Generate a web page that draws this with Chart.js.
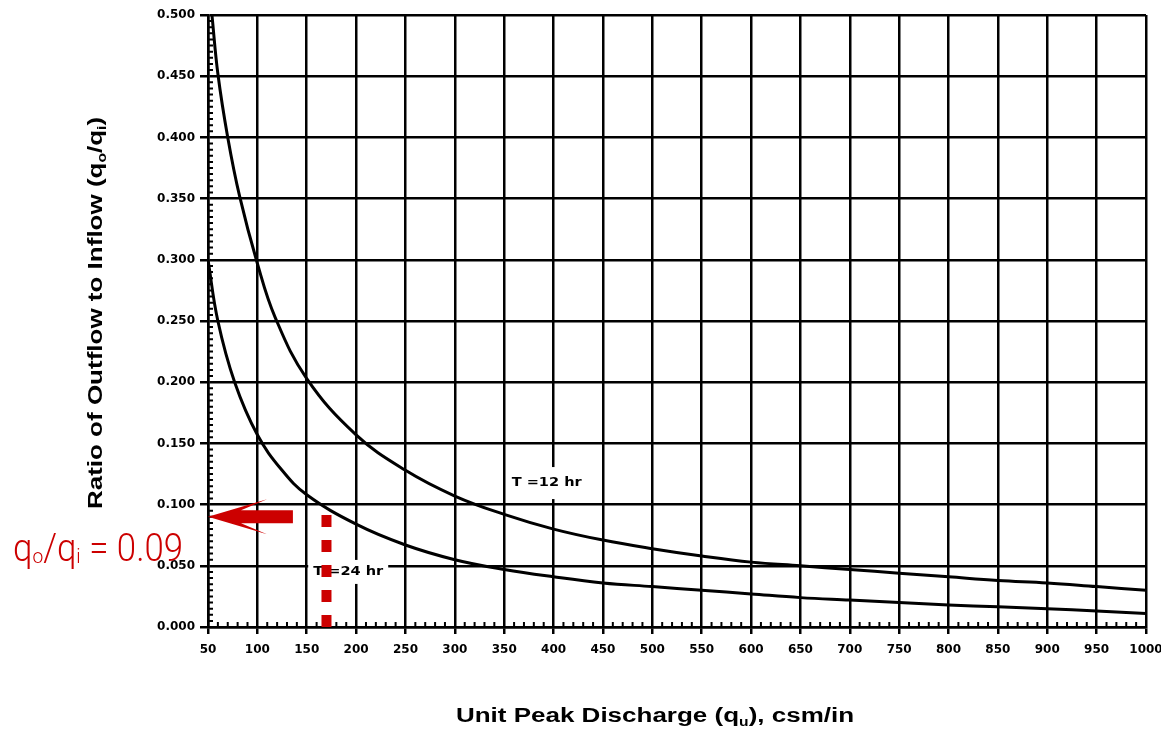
<!DOCTYPE html>
<html><head><meta charset="utf-8">
<script src="https://cdn.jsdelivr.net/npm/chart.js@4/dist/chart.umd.min.js"></script>
<style>html,body{margin:0;padding:0;background:#fff;}#wrap{width:1161px;height:733px;}</style>
</head><body><div id="wrap"><canvas id="c" width="1161" height="733"></canvas></div>
<script>
// ---- data ----
const X_TICKS = [50,100,150,200,250,300,350,400,450,500,550,600,650,700,750,800,850,900,950,1000];
const Y_TICKS = [0,0.05,0.1,0.15,0.2,0.25,0.3,0.35,0.4,0.45,0.5];
const Y_TICK_LABELS = ['0.000','0.050','0.100','0.150','0.200','0.250','0.300','0.350','0.400','0.450','0.500'];
const SERIES_NAMES = ['T =12 hr','T =24 hr'];
const QU_T12 = [54,60,70,82,100,118,150,200,250,300,350,400,450,500,550,600,650,700,750,800,850,900,950,1000];
const RATIO_T12 = [0.500,0.452,0.400,0.352,0.297,0.253,0.203,0.157,0.128,0.107,0.092,0.080,0.071,0.064,0.058,0.053,0.050,0.047,0.044,0.041,0.038,0.036,0.033,0.030];
const QU_T24 = [50,60,77,100,125,150,200,250,300,350,400,450,500,550,600,650,700,750,800,850,900,950,1000];
const RATIO_T24 = [0.300,0.250,0.200,0.157,0.128,0.108,0.084,0.067,0.055,0.047,0.041,0.036,0.033,0.030,0.027,0.024,0.022,0.020,0.018,0.0165,0.015,0.013,0.011];
// reading example
const READ_QU = 170;
const READ_RATIO = 0.09;
const ARROW_TAIL_QU = 136;
const LABEL_T12_AT = [393, 0.1176];
const LABEL_T24_AT = [192, 0.045];
const Y_MINOR_STEP = 0.005;
const X_MINOR_STEP = 10;

const toPts = (xs, ys) => xs.map((x, i) => ({x: x, y: ys[i]}));
const RED = '#cc0000';
const TICK_FONT = {family: "'DejaVu Sans', sans-serif", size: 12, weight: 'bold'};
const TITLE_FAMILY = "'Liberation Sans', Arial, sans-serif";

function drawRich(ctx, parts, x, y, o) {
  const fMain = (o.weight || 'bold') + ' ' + o.size + 'px ' + o.family;
  const fSub = (o.weight || 'bold') + ' ' + Math.round(o.size * o.subScale) + 'px ' + o.family;
  let total = 0;
  const widths = parts.map(p => { ctx.font = p.sub ? fSub : fMain; const w = ctx.measureText(p.t).width; total += w; return w; });
  let sx = 1;
  if (o.target) sx = Math.max(0.75, Math.min(1.3, o.target / total));
  ctx.save();
  ctx.translate(x, y);
  ctx.scale(sx, 1);
  ctx.fillStyle = o.color || '#000';
  ctx.textBaseline = 'alphabetic';
  ctx.textAlign = 'left';
  let cx = o.align === 'center' ? -total / 2 : (o.align === 'right' ? -total : 0);
  parts.forEach((p, i) => {
    ctx.font = p.sub ? fSub : fMain;
    ctx.fillText(p.t, cx, p.sub ? o.subDrop : 0);
    cx += widths[i];
  });
  ctx.restore();
}

const decor = {
  id: 'decor',
  afterDatasetsDraw(chart) {
    const ctx = chart.ctx, xs = chart.scales.x, ys = chart.scales.y, a = chart.chartArea;
    // minor ticks
    ctx.save();
    ctx.strokeStyle = '#000'; ctx.lineWidth = 2;
    ctx.beginPath();
    for (let k = 1; k < Math.round(0.5 / Y_MINOR_STEP); k++) {
      if (k % 10 === 0) continue;
      const py = ys.getPixelForValue(k * Y_MINOR_STEP);
      ctx.moveTo(a.left, py); ctx.lineTo(a.left + 5, py);
    }
    for (let v = 50 + X_MINOR_STEP; v < 1000; v += X_MINOR_STEP) {
      if (v % 50 === 0) continue;
      const px = xs.getPixelForValue(v);
      ctx.moveTo(px, a.bottom); ctx.lineTo(px, a.bottom - 5);
    }
    ctx.stroke();
    ctx.restore();
    // curve labels
    const labs = [[SERIES_NAMES[0], LABEL_T12_AT, 32], [SERIES_NAMES[1], LABEL_T24_AT, 24]];
    labs.forEach(([txt, at, h]) => {
      const px = xs.getPixelForValue(at[0]), py = ys.getPixelForValue(at[1]);
      ctx.save();
      ctx.font = "bold 13px 'DejaVu Sans', sans-serif";
      const w = ctx.measureText(txt).width;
      const sx = 70 / w;
      ctx.fillStyle = '#fff';
      ctx.fillRect(px - 40, py - h / 2, 80, h);
      ctx.translate(px, py);
      ctx.scale(sx, 1);
      ctx.fillStyle = '#000';
      ctx.textAlign = 'center'; ctx.textBaseline = 'middle';
      ctx.fillText(txt, 0, 0);
      ctx.restore();
    });
    // red dotted reading line
    const rx = xs.getPixelForValue(READ_QU);
    ctx.save();
    ctx.strokeStyle = RED; ctx.lineWidth = 10;
    ctx.setLineDash([12, 13]);
    ctx.beginPath();
    ctx.moveTo(rx, a.bottom); ctx.lineTo(rx, ys.getPixelForValue(0.1) + 1);
    ctx.stroke();
    ctx.restore();
    // red arrow
    const tx = xs.getPixelForValue(50), ty = ys.getPixelForValue(READ_RATIO);
    const ex = xs.getPixelForValue(ARROW_TAIL_QU) - tx;
    ctx.save();
    ctx.fillStyle = RED;
    ctx.beginPath();
    ctx.moveTo(tx, ty);
    ctx.lineTo(tx + 59, ty - 17.5);
    ctx.lineTo(tx + 33, ty - 6.5);
    ctx.lineTo(tx + ex, ty - 6.5);
    ctx.lineTo(tx + ex, ty + 6.5);
    ctx.lineTo(tx + 33, ty + 6.5);
    ctx.lineTo(tx + 59, ty + 17.5);
    ctx.closePath();
    ctx.fill();
    ctx.restore();
  },
  afterDraw(chart) {
    const ctx = chart.ctx;
    drawRich(ctx, [{t:'q'},{t:'o',sub:true},{t:'/'},{t:'q'},{t:'i',sub:true},{t:' = ' + READ_RATIO.toFixed(2)}],
      13, 561, {size: 38, family: "Roboto, 'Open Sans', sans-serif", weight: '300', subScale: 0.55, subDrop: 2, target: 170, color: RED});
    ctx.save();
    ctx.translate(102, 313);
    ctx.rotate(-Math.PI / 2);
    drawRich(ctx, [{t:'Ratio of Outflow to Inflow (q'},{t:'o',sub:true},{t:'/q'},{t:'i',sub:true},{t:')'}],
      0, 0, {size: 20, family: TITLE_FAMILY, subScale: 0.62, subDrop: 4, target: 427, align: 'center'});
    ctx.restore();
    drawRich(ctx, [{t:'Unit Peak Discharge (q'},{t:'u',sub:true},{t:'), csm/in'}],
      655, 722, {size: 20, family: TITLE_FAMILY, subScale: 0.62, subDrop: 4, target: 408, align: 'center'});
  }
};

new Chart(document.getElementById('c'), {
  type: 'line',
  data: {
    datasets: [
      {label: SERIES_NAMES[0], data: toPts(QU_T12, RATIO_T12), borderColor: '#000', borderWidth: 3, pointRadius: 0, tension: 0.4, fill: false},
      {label: SERIES_NAMES[1], data: toPts(QU_T24, RATIO_T24), borderColor: '#000', borderWidth: 3, pointRadius: 0, tension: 0.4, fill: false}
    ]
  },
  options: {
    responsive: false,
    animation: false,
    devicePixelRatio: 1,
    layout: {padding: {top: 15, right: 15, left: 0, bottom: 0}},
    plugins: {legend: {display: false}, tooltip: {enabled: false}, title: {display: false}},
    scales: {
      x: {
        type: 'linear', min: 50, max: 1000,
        afterBuildTicks: s => { s.ticks = X_TICKS.map(v => ({value: v})); },
        afterFit: s => { s.height = 106; s.paddingLeft = 0; s.paddingRight = 0; },
        ticks: {autoSkip: false, maxRotation: 0, font: TICK_FONT, color: '#000', padding: 9, callback: v => String(v)},
        grid: {color: '#000', lineWidth: 2.5, tickLength: 7, tickColor: '#000'},
        border: {color: '#000', width: 2.5}
      },
      y: {
        type: 'linear', min: 0, max: 0.5,
        afterBuildTicks: s => { s.ticks = Y_TICKS.map(v => ({value: v})); },
        afterFit: s => { s.width = 208; s.paddingTop = 0; s.paddingBottom = 0; },
        ticks: {autoSkip: false, font: TICK_FONT, color: '#000', padding: 5, callback: (v, i) => Y_TICK_LABELS[i]},
        grid: {color: '#000', lineWidth: 2.5, tickLength: 8, tickColor: '#000'},
        border: {color: '#000', width: 2.5}
      }
    }
  },
  plugins: [decor]
});
</script></body></html>
